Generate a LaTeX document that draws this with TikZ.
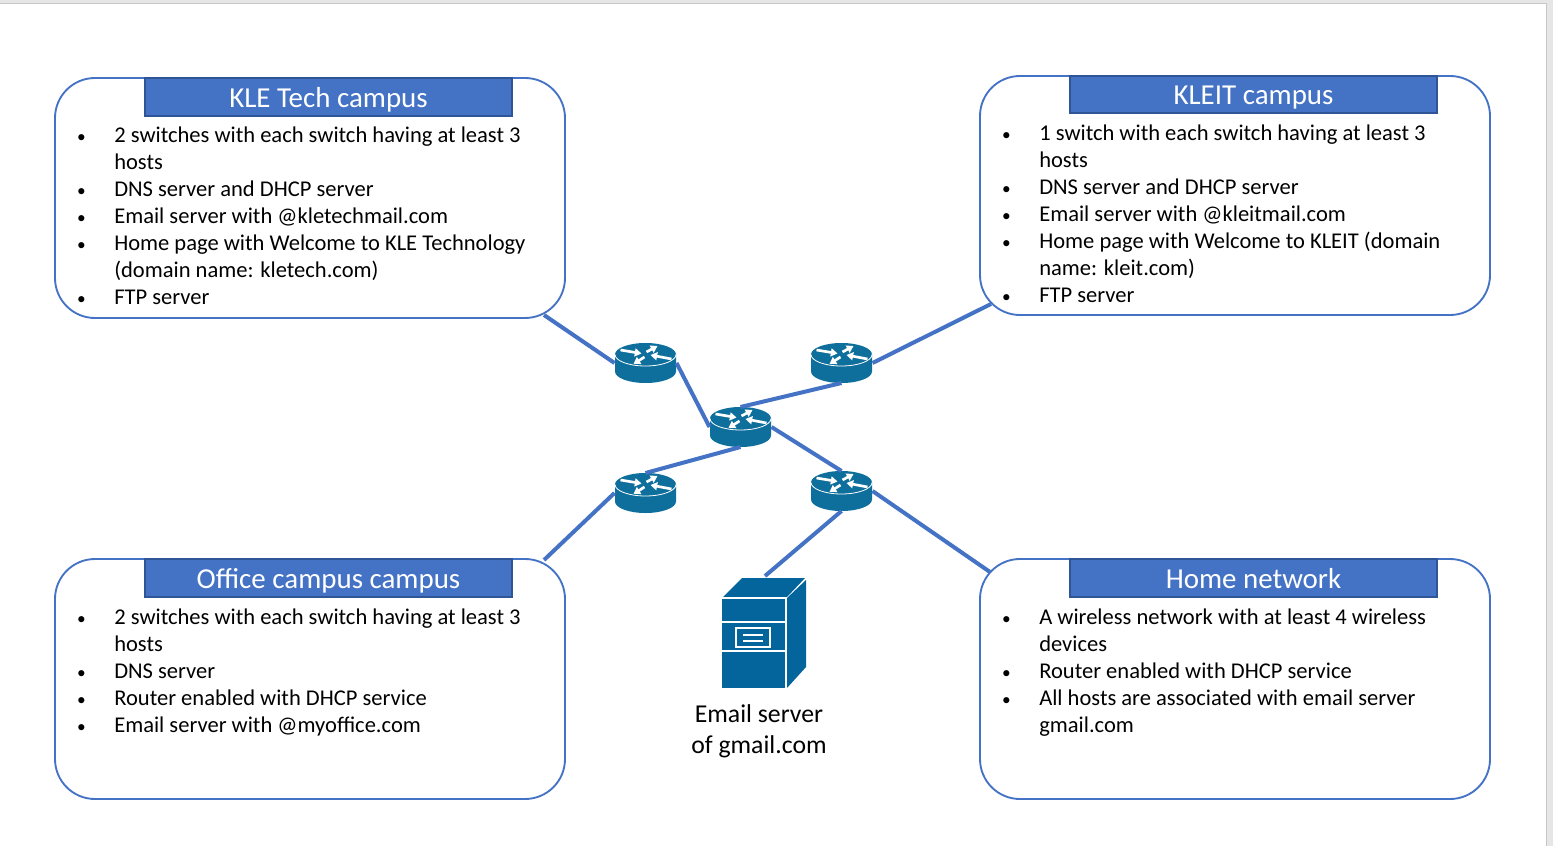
\documentclass[tikz,border=0pt]{standalone}
\usepackage{fontspec}
\setmainfont{Carlito}
\usetikzlibrary{arrows.meta}
\definecolor{linkblue}{HTML}{4472C4}
\definecolor{headedge}{HTML}{2F5597}
\definecolor{ciscoblue}{HTML}{0E6E9C}
\definecolor{serverblue}{HTML}{03659B}
\definecolor{chrome}{HTML}{E6E6E6}
\definecolor{chromeline}{HTML}{C6C6C6}
\tikzset{
  x=0.75pt,y=-0.75pt,
  campus/.style={draw=linkblue,line width=1.4pt,rounded corners=30pt,fill=white,inner sep=0pt,outer sep=0pt,anchor=north west},
  header/.style={draw=headedge,line width=1pt,fill=linkblue,text=white,font=\fontsize{21.7}{24}\selectfont,inner sep=0pt,outer sep=0pt,anchor=north west,minimum width=275.25pt,text height=15pt,text depth=0pt},
  bullets/.style={anchor=north west,align=left,inner sep=0pt,font=\fontsize{16.9}{20.25}\selectfont,text=black},
  link/.style={draw=linkblue,line width=3pt},
  routerhit/.style={inner sep=0pt,outer sep=0pt,minimum width=46.5pt,minimum height=30pt},
  routerarrow/.style={white,line width=2pt,-{Triangle[width=6pt,length=5pt]}},
  caption/.style={align=center,inner sep=0pt,font=\fontsize{19.3}{23.25}\selectfont},
}
\newcommand{\itm}{\makebox[27pt][l]{\hspace{-0.8pt}\raisebox{0.5pt}{\fontsize{13}{13}\selectfont •}}}
\newcommand{\cont}{\hspace*{27pt}}
\newcommand{\router}[2]{%
  \begin{scope}[shift={(#2)}]
    \fill[ciscoblue] (-30.5,-8.5) arc[start angle=180,end angle=0,x radius=22.875pt,y radius=8.625pt]
      -- (30.5,8.5) arc[start angle=0,end angle=-180,x radius=22.875pt,y radius=8.625pt] -- cycle;
    \draw[white,line width=0.6pt] (-30.5,-8.5) arc[start angle=180,end angle=360,x radius=22.875pt,y radius=8.625pt];
    \draw[routerarrow] (-25,-13) -- (-4,-9.5);
    \draw[routerarrow] (1,-11) -- (12,-17);
    \draw[routerarrow] (26,-4) -- (5,-8);
    \draw[routerarrow] (-1,-6) -- (-12,1);
  \end{scope}
  \node[routerhit] (#1) at (#2) {};%
}
\begin{document}
\begin{tikzpicture}
\useasboundingbox (0,0) rectangle (1553,846);
\fill[chrome] (0,0) rectangle (1553,846);
\fill[white] (0,3) rectangle (1546,846);
\draw[chromeline,line width=0.6pt] (0,3) -- (1546,3) -- (1546,846);

% campus boxes
\node[campus,minimum width=382.5pt,minimum height=180pt] (kle) at (55,78) {};
\node[campus,minimum width=382.5pt,minimum height=179.25pt] (kleit) at (980,76) {};
\node[campus,minimum width=382.5pt,minimum height=180pt] (office) at (55,559) {};
\node[campus,minimum width=382.5pt,minimum height=180pt] (home) at (980,559) {};

% headers
\node[header,minimum height=28.5pt] (klehead) at (145,78) {KLE Tech campus};
\node[header,minimum height=27.75pt] (kleithead) at (1070,76) {KLEIT campus};
\node[header,minimum height=28.5pt] (officehead) at (145,559) {Office campus campus};
\node[header,minimum height=28.5pt] (homehead) at (1070,559) {Home network};

% lists
\node[bullets] (klelist) at (78,127) {\itm 2 switches with each switch having at least 3\\
\cont hosts\\
\itm DNS server and DHCP server\\
\itm Email server with @kletechmail.com\\
\itm Home page with Welcome to KLE Technology\\
\cont (domain name: kletech.com)\\
\itm FTP server};
\node[bullets] (kleitlist) at (1003,125) {\itm 1 switch with each switch having at least 3\\
\cont hosts\\
\itm DNS server and DHCP server\\
\itm Email server with @kleitmail.com\\
\itm Home page with Welcome to KLEIT (domain\\
\cont name: kleit.com)\\
\itm FTP server};
\node[bullets] (officelist) at (78,609) {\itm 2 switches with each switch having at least 3\\
\cont hosts\\
\itm DNS server\\
\itm Router enabled with DHCP service\\
\itm Email server with @myoffice.com};
\node[bullets] (homelist) at (1003,609) {\itm A wireless network with at least 4 wireless\\
\cont devices\\
\itm Router enabled with DHCP service\\
\itm All hosts are associated with email server\\
\cont gmail.com};

% routers
\router{rnw}{645.5,363}
\router{rne}{841.5,363}
\router{rc}{740.5,427}
\router{rsw}{645.5,493}
\router{rse}{841.5,491}

% server
\fill[serverblue] (722,598) -- (742,578) -- (805,578) -- (787,597) -- cycle;
\fill[serverblue] (787,598) -- (806,580) -- (806,667) -- (787,688) -- cycle;
\fill[serverblue] (722,598) rectangle (786,688);
\draw[white,line width=0.9pt] (722,598) -- (786,598) -- (786,688);
\draw[white,line width=0.9pt] (722,622) -- (786,622) (722,651) -- (786,651);
\draw[white,line width=1pt] (736,628) rectangle (770,647);
\draw[white,line width=0.8pt] (743,635) -- (763,635) (743,641) -- (763,641);
\node[inner sep=0pt,outer sep=0pt,minimum width=63pt,minimum height=82.5pt] (server) at (764,633) {};
\node[caption,anchor=north] (servercap) at (759,704) {Email server\\of gmail.com};

% free ends
\coordinate (klefoot) at (544,315);
\coordinate (kleitfoot) at (991,304);
\coordinate (officetop) at (544,560);
\coordinate (hometop) at (990,572);
\coordinate (servertop) at (765,576);

% links
\draw[link] (klefoot) -- (rnw.west);
\draw[link] (rnw.east) -- (rc.west);
\draw[link] (rne.south) -- (rc.north);
\draw[link] (rne.east) -- (kleitfoot);
\draw[link] (rc.east) -- (rse.north);
\draw[link] (rse.east) -- (hometop);
\draw[link] (rc.south) -- (rsw.north);
\draw[link] (rsw.west) -- (officetop);
\draw[link] (rse.south) -- (servertop);
\end{tikzpicture}
\end{document}
